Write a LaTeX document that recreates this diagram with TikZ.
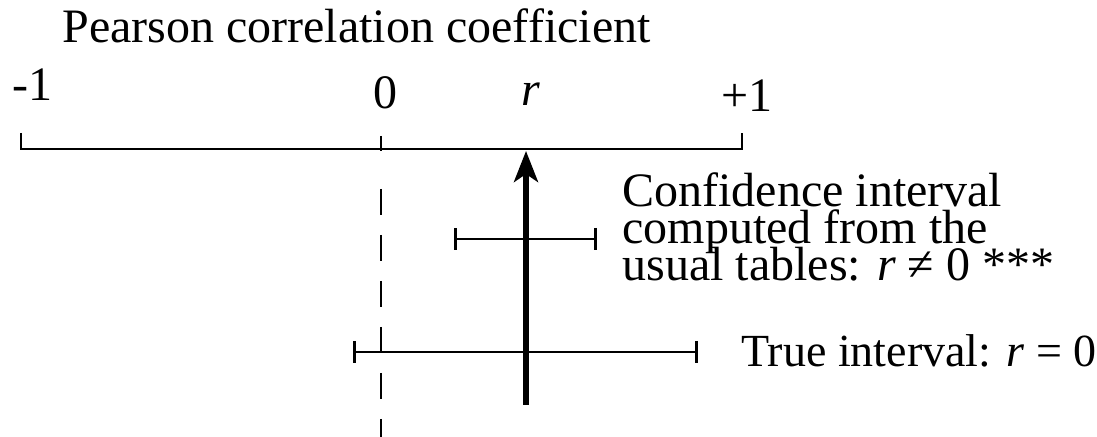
\documentclass[tikz,border=0pt]{standalone}
\usepackage{fontspec}
\setmainfont{Liberation Serif}
\usetikzlibrary{arrows.meta}
\newcommand\lblfont{\fontsize{24}{18.5}\selectfont\lineskiplimit=-100pt\relax}

\begin{document}
\begin{tikzpicture}[x=0.5pt, y=-0.5pt]
        \tikzstyle{axis}=[line width=1.3pt, line cap=butt]
        \tikzstyle{interval}=[line width=1.3pt, {Bar[width=11pt]}-{Bar[width=11pt]}]
        \tikzstyle{zeroline}=[line width=1.3pt, dash pattern=on 13pt off 10pt]
        \tikzstyle{estimate}=[line width=2.6pt, -{Stealth[length=15.5pt, width=12pt, inset=4pt]}]
        \tikzstyle{lbl}=[inner sep=0pt, font=\lblfont]
        \useasboundingbox (0,0) rectangle (1097,437);
        % scale
        \node[lbl, anchor=base west] (title) at (62,43) {Pearson correlation coefficient};
        \coordinate (mone) at (21,149);
        \coordinate (pone) at (742,149);
        \coordinate (zero) at (381,149);
        \draw[axis] (mone) ++(0,-16) -- (mone) -- (pone) -- ++(0,-16);
        \draw[axis] (zero) ++(0,-13) -- ++(0,15);
        \node[lbl, anchor=base west] (lblmone) at (12,101) {-1};
        \node[lbl, anchor=base] (lblzero) at (385,109) {0};
        \node[lbl, anchor=base] (lblr) at (531,106) {\textit{r}};
        \node[lbl, anchor=base west] (lblpone) at (721,112) {+1};
        % zero and estimate
        \coordinate (dtop) at (381,189);
        \coordinate (dbot) at (381,445);
        \draw[zeroline] (dtop) -- (dbot);
        \coordinate (rbot) at (526,405);
        \coordinate (rtip) at (526,151);
        \draw[estimate] (rbot) -- (rtip);
        % intervals
        \coordinate (cilo) at (454,239);
        \coordinate (cihi) at (597,239);
        \draw[interval] (cilo) -- (cihi);
        \coordinate (tilo) at (353,352);
        \coordinate (tihi) at (698,352);
        \draw[interval] (tilo) -- (tihi);
        \node[lbl, anchor=base west, align=left] (citext) at (622,281)
            {Confidence interval\\computed from the\\usual tables: \textit{r} ≠ 0 ***};
        \node[lbl, anchor=base west, font=\fontsize{23}{17.5}\selectfont] (titext) at (741,367)
            {True interval: \textit{r} = 0};
    \end{tikzpicture}
\end{document}
